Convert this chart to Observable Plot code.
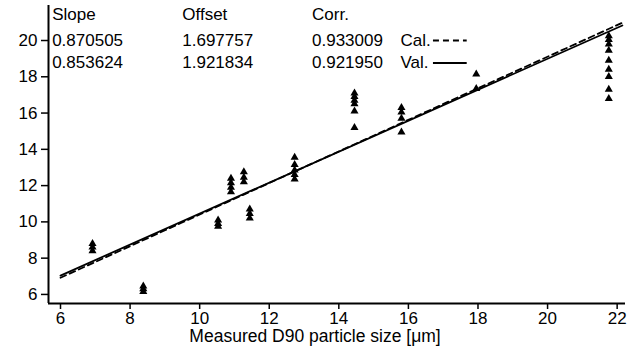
<!DOCTYPE html>
<html>
<head>
<meta charset="utf-8">
<script src="https://cdn.jsdelivr.net/npm/d3@7"></script>
<script src="https://cdn.jsdelivr.net/npm/@observablehq/plot@0.6"></script>
<style>
  html, body { margin: 0; padding: 0; background: #fff; }
  #chart svg { font-family: "Liberation Sans", Arial, sans-serif; }
</style>
</head>
<body>
<div id="chart"></div>
<script>
// Measured D90 (x) and predicted (y) values, one entry per triangle
const measured = [
  6.92, 6.92, 6.92,
  8.38, 8.38, 8.38,
  10.53, 10.53, 10.53,
  10.9, 10.9, 10.9, 10.9,
  11.27, 11.27, 11.27,
  11.44, 11.44, 11.44,
  12.73, 12.73, 12.73, 12.73, 12.73,
  14.45, 14.45, 14.45, 14.45, 14.45, 14.45,
  15.8, 15.8, 15.8, 15.8,
  17.95, 17.95,
  21.76, 21.76, 21.76, 21.76, 21.76, 21.76, 21.76, 21.76, 21.76
];
const predicted = [
  8.8, 8.6, 8.4,
  6.45, 6.3, 6.15,
  10.1, 9.9, 9.75,
  12.4, 12.15, 11.9, 11.65,
  12.75, 12.45, 12.2,
  10.7, 10.45, 10.2,
  13.55, 13.15, 12.85, 12.6, 12.35,
  17.1, 16.9, 16.7, 16.5, 16.1, 15.2,
  16.3, 16.05, 15.7, 14.95,
  18.15, 17.35,
  20.25, 20.05, 19.8, 19.45, 18.9, 18.4, 18.0, 17.3, 16.8
];

// Fit lines (end points)
const lineX = [6, 22.15];
const calY = [6.92, 20.98];
const valY = [7.04, 20.83];

// Statistics table
const tableHeaders = ["Slope", "Offset", "Corr."];
const calStats = ["0.870505", "1.697757", "0.933009"];
const valStats = ["0.853624", "1.921834", "0.921950"];
const seriesNames = ["Cal.", "Val."];

const xTicks = [6, 8, 10, 12, 14, 16, 18, 20, 22];
const yTicks = [6, 8, 10, 12, 14, 16, 18, 20];
const xLabel = "Measured D90 particle size [μm]";

const xDomain = [5.655, 22.24];
const yDomain = [5.5, 21.93];

const points = measured.map((m, i) => ({x: m, y: predicted[i]}));
const calLine = lineX.map((x, i) => ({x, y: calY[i]}));
const valLine = lineX.map((x, i) => ({x, y: valY[i]}));

// table layout in data coordinates
const colX = [5.76, 9.5, 13.23];
const rowY = [21.45, 20.0, 18.76];
const tableText = [];
tableHeaders.forEach((h, c) => {
  tableText.push({x: colX[c], y: rowY[0], t: h});
  tableText.push({x: colX[c], y: rowY[1], t: calStats[c]});
  tableText.push({x: colX[c], y: rowY[2], t: valStats[c]});
});
const nameText = [
  {x: 15.77, y: rowY[1], t: seriesNames[0]},
  {x: 15.77, y: rowY[2], t: seriesNames[1]}
];
const legendX = [16.72, 17.69];

const font = "Liberation Sans, Arial, sans-serif";

const plot = Plot.plot({
  width: 630,
  height: 349,
  marginLeft: 48,
  marginRight: 5,
  marginTop: 5,
  marginBottom: 46,
  style: {fontFamily: font, fontSize: "17px", color: "#000", background: "#fff"},
  x: {domain: xDomain},
  y: {domain: yDomain},
  marks: [
    Plot.axisX({ticks: xTicks, tickSize: 6, tickPadding: 2, fontSize: 17, strokeWidth: 1.5, label: null}),
    Plot.axisY({ticks: yTicks, tickSize: 7, tickPadding: 4, fontSize: 17, strokeWidth: 1.5, label: null}),
    Plot.text([xLabel], {frameAnchor: "bottom", dx: -22, dy: 33, fontSize: 17.5, fill: "#000", lineAnchor: "middle"}),
    Plot.ruleX([xDomain[0]], {stroke: "#000", strokeWidth: 2}),
    Plot.ruleY([yDomain[0]], {stroke: "#000", strokeWidth: 2}),
    Plot.line(calLine, {x: "x", y: "y", stroke: "#000", strokeWidth: 1.8, strokeDasharray: "6,4"}),
    Plot.line(valLine, {x: "x", y: "y", stroke: "#000", strokeWidth: 1.8}),
    Plot.dot(points, {x: "x", y: "y", symbol: "triangle", r: 3, fill: "#000", stroke: "none"}),
    Plot.text(tableText, {x: "x", y: "y", text: "t", textAnchor: "start", fontSize: 17, fill: "#000"}),
    Plot.text(nameText, {x: "x", y: "y", text: "t", textAnchor: "start", fontSize: 17, fill: "#000"}),
    Plot.ruleY([rowY[1]], {x1: legendX[0], x2: legendX[1], stroke: "#000", strokeWidth: 1.8, strokeDasharray: "6,4"}),
    Plot.ruleY([rowY[2]], {x1: legendX[0], x2: legendX[1], stroke: "#000", strokeWidth: 1.8})
  ]
});
document.getElementById("chart").appendChild(plot);
</script>
</body>
</html>
